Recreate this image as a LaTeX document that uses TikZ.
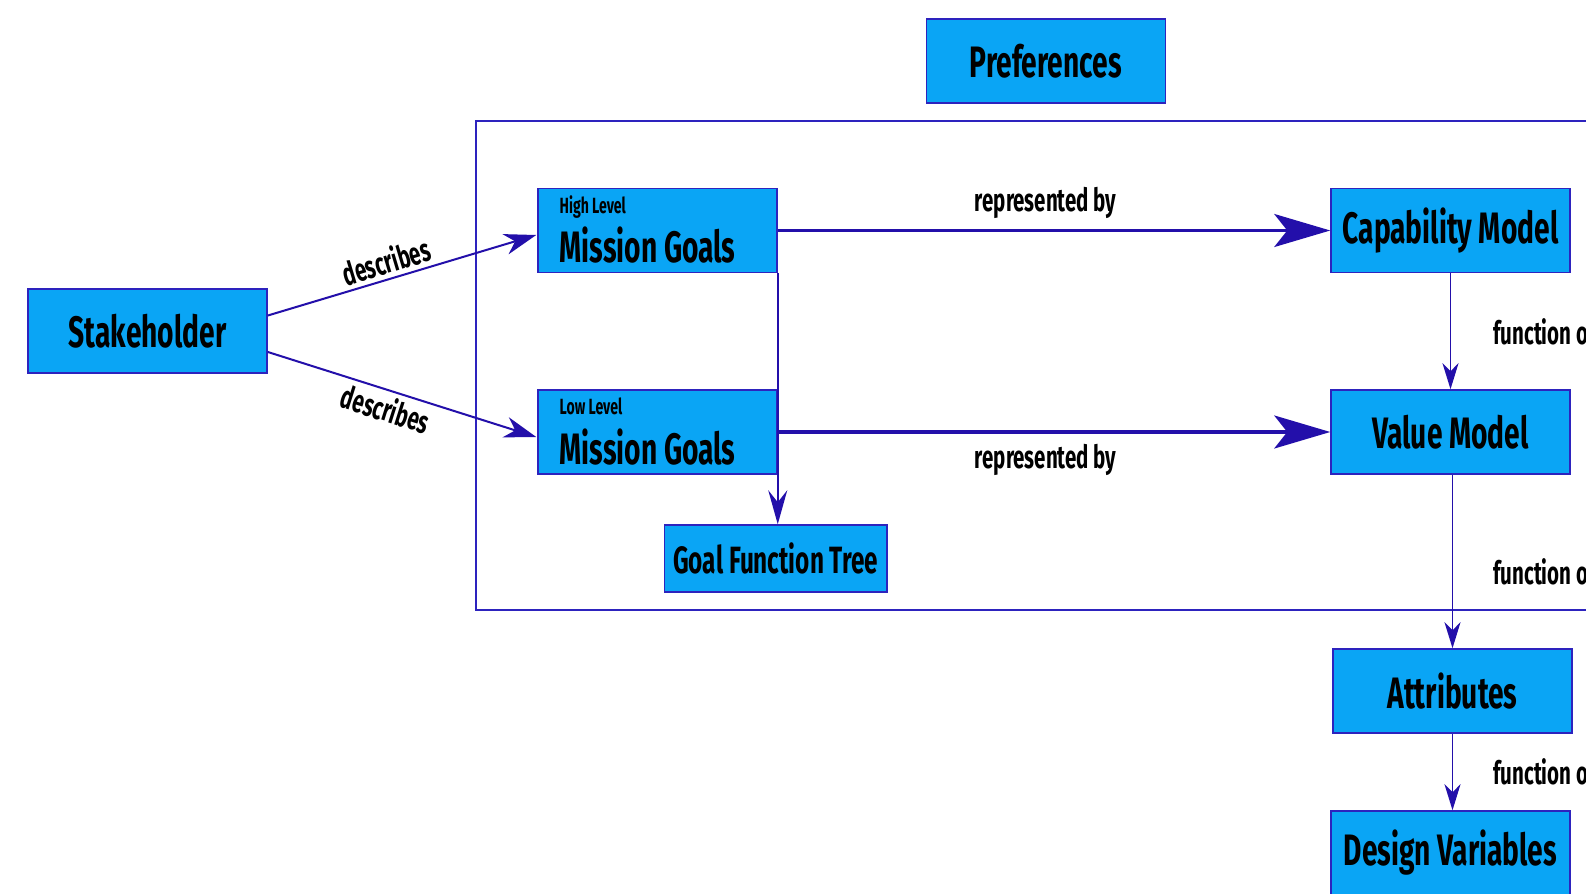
\documentclass[tikz,border=0pt]{standalone}
\usepackage{fontspec}
\setmainfont{Fira Sans}[FakeStretch=0.64]
\usetikzlibrary{arrows.meta,calc}
\definecolor{boxfill}{RGB}{10,165,245}
\definecolor{boxline}{RGB}{45,35,190}
\definecolor{arr}{RGB}{35,15,170}
\begin{document}
\begin{tikzpicture}[x=0.5pt,y=-0.5pt,
  box/.style={draw=boxline, line width=0.75pt, fill=boxfill, minimum width=119.5pt, minimum height=42pt, inner sep=0pt, font=\bfseries\fontsize{22}{24}\selectfont},
  smalltxt/.style={inner sep=0pt, font=\bfseries\fontsize{11}{12}\selectfont},
  bigtxt/.style={inner sep=0pt, font=\bfseries\fontsize{22}{24}\selectfont},
  lbl/.style={font=\bfseries\fontsize{16}{18}\selectfont, inner sep=2pt},
  conn/.style={draw=arr},
  bighead/.style={-{Stealth[length=28pt, width=16.5pt, inset=6.5pt]}, line width=1.6pt},
  medhead/.style={-{Stealth[length=16pt, width=10.5pt, inset=5pt]}, line width=1pt},
  gfthead/.style={-{Stealth[length=17pt, width=9.5pt, inset=6pt]}, line width=0.9pt},
  smallhead/.style={-{Stealth[length=13pt, width=8pt, inset=4pt]}, line width=0.7pt}]
\useasboundingbox (0,0) rectangle (1586,894);
\clip (0,0) rectangle (1586,894);
\fill[white] (0,0) rectangle (1586,894);
% frame
\draw[draw=boxline, line width=1.2pt] (476,121) rectangle (1620,610);
% nodes
\node[box] (pref) at (1045.8,61.1) {Preferences};
\node[box] (stake) at (147.6,331) {Stakeholder};
\node[box] (hmg) at (657.5,230.5) {};
\node[smalltxt, anchor=base west] (hmgA) at ($(hmg.west)+(22,-17.5)$) {High Level};
\node[bigtxt, anchor=base west] (hmgB) at ($(hmg.west)+(22,32)$) {Mission Goals};
\node[box] (lmg) at (657.5,432) {};
\node[smalltxt, anchor=base west] (lmgA) at ($(lmg.west)+(22,-17.5)$) {Low Level};
\node[bigtxt, anchor=base west] (lmgB) at ($(lmg.west)+(22,32)$) {Mission Goals};
\node[box, minimum width=111.25pt, minimum height=33.5pt, font=\bfseries\fontsize{19}{21}\selectfont] (gft) at (775.7,558.5) {Goal Function Tree};
\node[box] (cap) at (1450.5,230.5) {Capability Model};
\node[box] (val) at (1450.5,432) {Value Model};
\node[box] (attr) at (1452.5,691) {Attributes};
\node[box] (dv) at (1450.5,853) {Design Variables};
% connectors
\draw[conn, medhead] ($(stake.east)+(0,-15.5)$) -- node[lbl, pos=0.46, above, sloped] (d1) {describes} ($(hmg.west)+(-1,4.5)$);
\draw[conn, medhead] ($(stake.east)+(0,21)$) -- node[lbl, pos=0.46, below, sloped] (d2) {describes} ($(lmg.west)+(-1,5)$);
\draw[conn, bighead] (hmg.east) -- node[lbl, pos=0.485, above=3pt] (r1) {represented by} (cap.west);
\draw[conn, bighead] (lmg.east) -- node[lbl, pos=0.485, below=3.5pt] (r2) {represented by} (val.west);
\draw[conn, gfthead] (hmg.south east) -- (hmg.south east |- gft.north);
\draw[conn, smallhead] (cap.south) -- (val.north);
\draw[conn, smallhead] (attr.north |- val.south) -- (attr.north);
\draw[conn, smallhead] (attr.south) -- (attr.south |- dv.north);
\node[lbl, anchor=west, inner sep=0pt] (f1) at (1493,332) {function of};
\node[lbl, anchor=west, inner sep=0pt] (f2) at (1493,571.5) {function of};
\node[lbl, anchor=west, inner sep=0pt] (f3) at (1493,772) {function of};
\end{tikzpicture}
\end{document}
